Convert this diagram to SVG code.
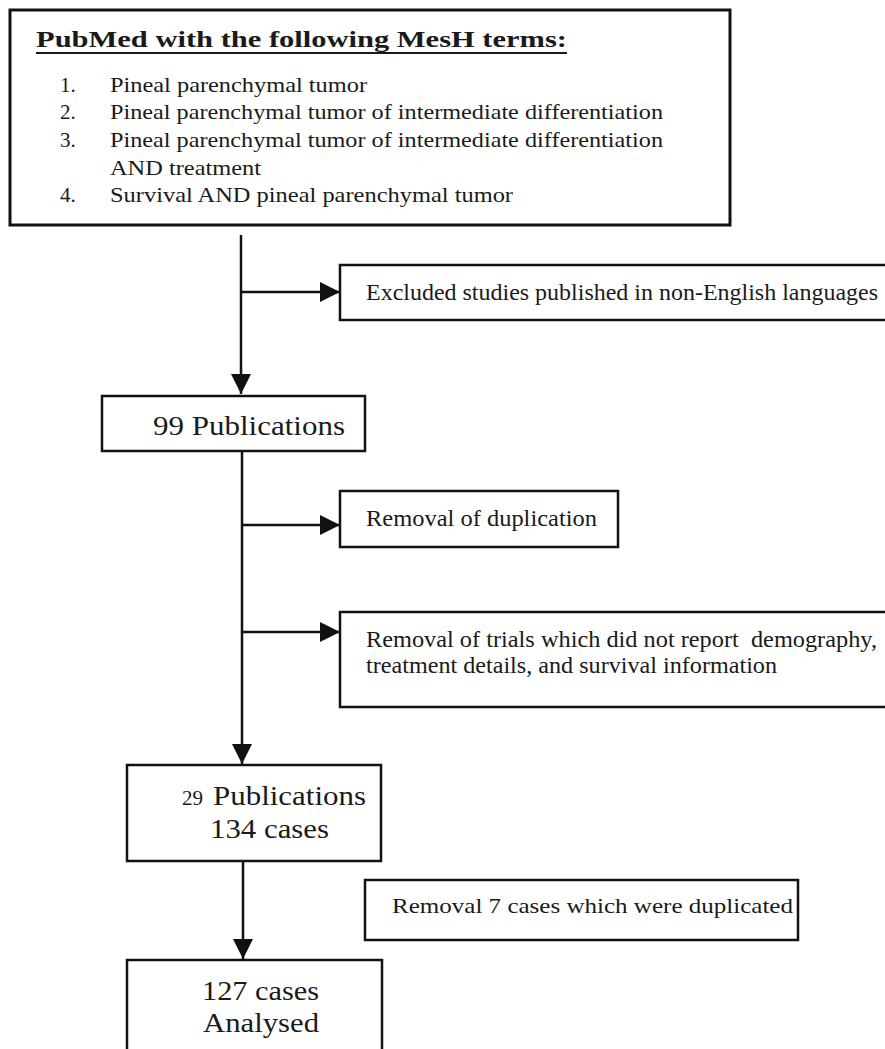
<svg xmlns="http://www.w3.org/2000/svg" width="885" height="1049" viewBox="0 0 885 1049" font-family="'Liberation Serif', serif">
<style>
.box{fill:#fff;stroke:#111;stroke-width:2.5}
.ln{fill:none;stroke:#111;stroke-width:2.5}
.t{font-size:23px;fill:#1a1a1a}
.s{font-size:21px;fill:#1a1a1a}
.b{font-size:28px;fill:#1a1a1a}
</style>
<defs>
<marker id="ah" viewBox="0 0 20 20" refX="20" refY="10" markerWidth="20" markerHeight="20" markerUnits="userSpaceOnUse" orient="auto">
<path d="M0,0 L20,10 L0,20 Z" fill="#111"/>
</marker>
</defs>
<rect width="885" height="1049" fill="#fff"/>
<g id="connectors">
<line class="ln" x1="241" y1="235" x2="241" y2="394" marker-end="url(#ah)"/>
<line class="ln" x1="241" y1="292" x2="340" y2="292" marker-end="url(#ah)"/>
<line class="ln" x1="242" y1="451" x2="242" y2="764" marker-end="url(#ah)"/>
<line class="ln" x1="242" y1="525" x2="340" y2="525" marker-end="url(#ah)"/>
<line class="ln" x1="242" y1="632" x2="340" y2="632" marker-end="url(#ah)"/>
<line class="ln" x1="243" y1="861" x2="243" y2="959" marker-end="url(#ah)"/>
</g>
<g id="search" font-family="Liberation Serif">
<rect class="box" x="10" y="10" width="720" height="215" style="stroke-width:3"/>
<text x="36" y="47" font-size="23" font-weight="bold" fill="#1a1a1a" textLength="531" lengthAdjust="spacingAndGlyphs">PubMed with the following MesH terms:</text>
<line x1="36" y1="53" x2="567" y2="53" stroke="#1a1a1a" stroke-width="1.8"/>
<text class="s" x="60" y="92">1.</text>
<text class="s" x="110" y="92" textLength="257" lengthAdjust="spacingAndGlyphs">Pineal parenchymal tumor</text>
<text class="s" x="60" y="119">2.</text>
<text class="s" x="110" y="119" textLength="553" lengthAdjust="spacingAndGlyphs">Pineal parenchymal tumor of intermediate differentiation</text>
<text class="s" x="60" y="147">3.</text>
<text class="s" x="110" y="147" textLength="553" lengthAdjust="spacingAndGlyphs">Pineal parenchymal tumor of intermediate differentiation</text>
<text class="s" x="110" y="175" textLength="151" lengthAdjust="spacingAndGlyphs">AND treatment</text>
<text class="s" x="60" y="202">4.</text>
<text class="s" x="110" y="202" textLength="403" lengthAdjust="spacingAndGlyphs">Survival AND pineal parenchymal tumor</text>
</g>
<g id="excluded" font-family="Liberation Serif">
<rect class="box" x="340" y="265" width="560" height="55"/>
<text class="t" x="366" y="300" textLength="512" lengthAdjust="spacingAndGlyphs">Excluded studies published in non-English languages</text>
</g>
<g id="pub99" font-family="Liberation Serif">
<rect class="box" x="102" y="396" width="263" height="55"/>
<text class="b" x="153" y="435" textLength="192" lengthAdjust="spacingAndGlyphs">99 Publications</text>
</g>
<g id="dup" font-family="Liberation Serif">
<rect class="box" x="340" y="491" width="278" height="56"/>
<text class="t" x="366" y="526" textLength="231" lengthAdjust="spacingAndGlyphs">Removal of duplication</text>
</g>
<g id="trials" font-family="Liberation Serif">
<rect class="box" x="340" y="612" width="560" height="95"/>
<text class="t" x="366" y="647" textLength="511" lengthAdjust="spacingAndGlyphs" xml:space="preserve">Removal of trials which did not report  demography,</text>
<text class="t" x="366" y="673" textLength="411" lengthAdjust="spacingAndGlyphs">treatment details, and survival information</text>
</g>
<g id="pub29" font-family="Liberation Serif">
<rect class="box" x="127" y="765" width="254" height="96"/>
<text x="182" y="805" font-size="20" fill="#1a1a1a" textLength="21" lengthAdjust="spacingAndGlyphs">29</text>
<text class="b" x="213" y="805" textLength="153" lengthAdjust="spacingAndGlyphs">Publications</text>
<text class="b" x="210" y="838" textLength="119" lengthAdjust="spacingAndGlyphs">134 cases</text>
</g>
<g id="dup7" font-family="Liberation Serif">
<rect class="box" x="365" y="880" width="433" height="60"/>
<text class="s" x="392" y="913" textLength="401" lengthAdjust="spacingAndGlyphs">Removal 7 cases which were duplicated</text>
</g>
<g id="final" font-family="Liberation Serif">
<rect class="box" x="127" y="960" width="255" height="110"/>
<text class="b" x="202" y="1000" textLength="117" lengthAdjust="spacingAndGlyphs">127 cases</text>
<text class="b" x="203" y="1032" textLength="116" lengthAdjust="spacingAndGlyphs">Analysed</text>
</g>
</svg>
